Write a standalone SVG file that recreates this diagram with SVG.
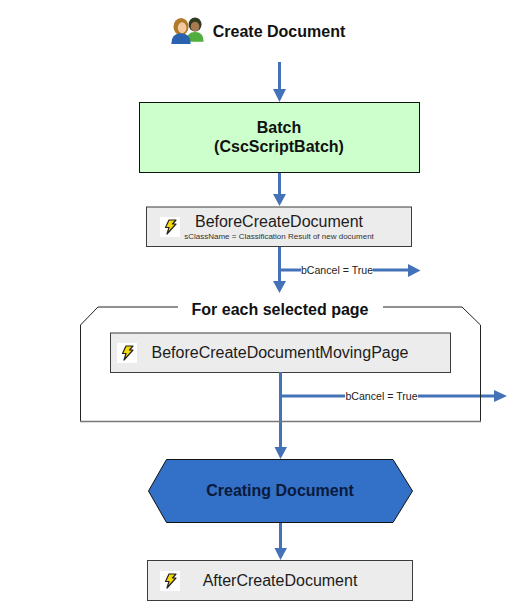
<svg xmlns="http://www.w3.org/2000/svg" width="507" height="601" viewBox="0 0 507 601">
<style>
text{font-family:"Liberation Sans",Arial,sans-serif;text-anchor:middle;fill:#111}
.b{font-weight:bold;font-size:16px}
.ev{font-size:16px;fill:#1c1c1c}
.box{fill:#ececec;stroke:#3c3c3c;stroke-width:1}
.c{fill:none;stroke:#4472b8;stroke-width:3}
.h{fill:#4472b8}
.lab{font-size:10.600px;fill:#222}
</style>
<defs>
<g id="bolt">
<rect x="-10" y="-10" width="20" height="20" fill="#fff"/>
<path d="M-1,-7 L6,-7 L2.500,-3 L6,-3 L-3,7 L-1,0.500 L-4.500,0.500 Z" fill="#f5d90a" stroke="#222" stroke-width="1.200" stroke-linejoin="round"/>
</g>
</defs>
<rect width="507" height="601" fill="#fff"/>

<g id="connectors">
<path class="c" d="M279.500 62V93"/><path class="h" d="M273 89H286L279.500 102Z"/>
<path class="c" d="M279.500 172V197"/><path class="h" d="M273 194H286L279.500 206Z"/>
<path class="c" d="M279.500 246V283"/><path class="h" d="M273 281H286L279.500 293Z"/>
<path class="c" d="M280 270H301M373 270H410"/><path class="h" d="M408 264L420.500 270.500L408 277Z"/>
<path class="c" d="M280.500 372V449"/><path class="h" d="M274.500 447H287L280.500 459Z"/>
<path class="c" d="M281 396H345M418 396H496"/><path class="h" d="M494 390L507 396L494 402Z"/>
<path class="c" d="M280.500 522V551"/><path class="h" d="M274.500 548H287L280.500 560Z"/>
</g>

<g id="create-document">
<g transform="translate(187.500,31) scale(1.080)">
<ellipse cx="7" cy="-6" rx="6" ry="6.500" fill="#2f3a20"/>
<path d="M-1,10 Q-1,1 7,1 Q15,1 15,10 Z" fill="#4fae3c"/>
<ellipse cx="7" cy="-4" rx="4" ry="4.500" fill="#a87a52"/>
<ellipse cx="-6" cy="-4" rx="7" ry="8" fill="#b07a28"/>
<path d="M-15,12 Q-15,2 -6,2 Q3,2 3,12 Z" fill="#2a62b0"/>
<ellipse cx="-5" cy="-3" rx="4" ry="5" fill="#f2c9a0"/>
</g>
<text class="b" x="279" y="36.500">Create Document</text>
</g>

<g id="batch">
<rect x="139.500" y="102.500" width="280" height="70" fill="#ccffcc" stroke="#111" stroke-width="1"/>
<text class="b" x="279" y="132.500">Batch</text>
<text class="b" x="279" y="151.500">(CscScriptBatch)</text>
</g>

<g id="before-create-document">
<rect class="box" x="146.500" y="207" width="265" height="39.500"/>
<use href="#bolt" x="170" y="227"/>
<text class="ev" x="279" y="227">BeforeCreateDocument</text>
<text x="279" y="239" font-size="8px" style="fill:#333">sClassName = Classification Result of new document</text>
</g>

<text class="lab" x="337" y="273.500">bCancel = True</text>

<g id="for-each-page">
<path d="M178,307H98L80.500,325V421.500" fill="none" stroke="#222" stroke-width="1"/>
<path d="M383,307H462L480.500,325V421.500" fill="none" stroke="#222" stroke-width="1"/>
<path d="M80,421.500H481" fill="none" stroke="#777" stroke-width="1.500"/>
<text class="b" x="280" y="314.500">For each selected page</text>
</g>

<g id="before-create-document-moving-page">
<rect class="box" x="110.500" y="333" width="340" height="39.500"/>
<use href="#bolt" x="127" y="353"/>
<text class="ev" x="280" y="358">BeforeCreateDocumentMovingPage</text>
</g>

<path class="c" d="M280.500 372V421"/>
<text class="lab" x="381.500" y="399.500">bCancel = True</text>

<g id="creating-document">
<path d="M148.500,491L166.500,459.500H393L412.500,491L393,522.500H166.500Z" fill="#3370c8" stroke="#111" stroke-width="1"/>
<text class="b" x="280" y="495.500" style="fill:#0a1a3a">Creating Document</text>
</g>

<g id="after-create-document">
<rect class="box" x="147.500" y="560.500" width="265" height="40"/>
<use href="#bolt" x="170" y="581"/>
<text class="ev" x="280" y="585.500">AfterCreateDocument</text>
</g>
</svg>
